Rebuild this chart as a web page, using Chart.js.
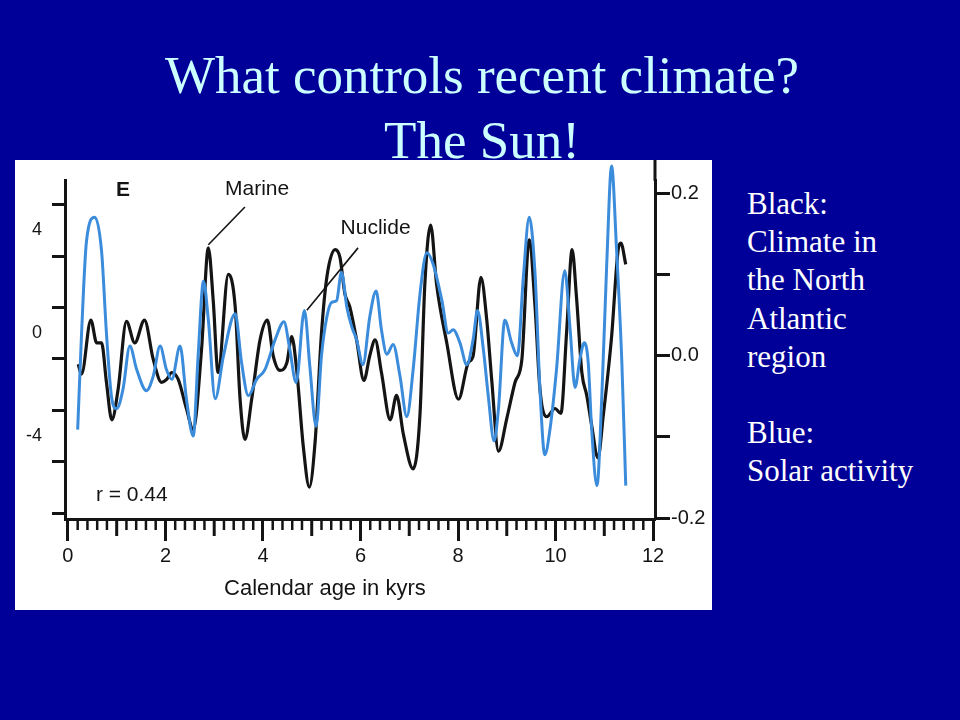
<!DOCTYPE html>
<html><head><meta charset="utf-8">
<script src="https://cdn.jsdelivr.net/npm/chart.js@4.4.0/dist/chart.umd.min.js"></script>
<style>
html,body{margin:0;padding:0;}
body{width:960px;height:720px;background:#000099;position:relative;overflow:hidden;font-family:"Liberation Serif","Times New Roman",serif;}
.t{position:absolute;left:0;width:964px;text-align:center;color:#ccffff;font-size:53px;line-height:53px;white-space:nowrap;}
#panel{position:absolute;left:15px;top:160px;width:697px;height:450px;background:#fff;}
#c{display:block;width:697px;height:450px;}
#side{position:absolute;left:747px;top:185px;color:#fff;font-size:31px;line-height:38.2px;white-space:nowrap;}
</style></head>
<body>
<div class="t" style="top:49px">What controls recent climate?</div>
<div class="t" style="top:114px">The Sun!</div>
<div id="panel"><canvas id="c" width="697" height="450"></canvas></div>
<div id="side">Black:<br>Climate in<br>the North<br>Atlantic<br>region<br><br>Blue:<br>Solar activity</div>
<script>
// Marine record (black, left axis)
const marineAge = [0.21,0.28,0.47,0.59,0.69,0.79,0.90,1.03,1.20,1.37,1.57,1.75,1.92,2.03,2.13,2.26,2.43,2.57,2.74,2.88,2.98,3.08,3.29,3.43,3.53,3.63,3.77,3.94,4.09,4.21,4.35,4.49,4.59,4.69,4.83,4.95,5.07,5.20,5.31,5.48,5.58,5.68,5.78,5.92,6.07,6.19,6.30,6.43,6.61,6.74,6.88,7.08,7.22,7.32,7.44,7.56,7.77,8.01,8.21,8.31,8.47,8.59,8.69,8.83,9.00,9.17,9.31,9.46,9.58,9.68,9.82,9.99,10.11,10.23,10.34,10.43,10.54,10.64,10.74,10.87,10.98,11.15,11.29,11.34,11.44];
const marineValue = [-1.21,-1.59,0.51,-0.38,-0.38,-1.91,-3.37,-2.17,0.46,-0.38,0.51,-1.02,-1.91,-1.79,-1.53,-1.79,-2.93,-3.75,-0.64,3.32,1.27,-1.53,2.29,1.03,-2.55,-4.13,-2.55,-0.26,0.51,-0.88,-1.45,-1.15,-0.13,-1.40,-4.46,-5.99,-4.21,0.00,2.18,3.25,2.94,1.53,1.03,-0.26,-1.84,-0.88,-0.26,-1.53,-3.37,-2.42,-3.94,-5.28,-3.17,1.91,4.21,1.91,-0.38,-2.57,-1.15,-0.88,2.17,0.51,-1.79,-4.59,-3.32,-1.91,-1.02,3.63,1.03,-2.17,-3.25,-2.93,-3.12,0.13,3.25,1.40,-1.53,-2.42,-3.57,-4.85,-3.19,-0.13,3.32,3.51,2.68];
// Nuclide record (blue, right axis)
const nuclideAge = [0.20,0.28,0.38,0.55,0.69,0.79,0.90,1.00,1.13,1.27,1.41,1.61,1.75,1.89,2.02,2.13,2.30,2.43,2.57,2.67,2.78,2.88,3.02,3.19,3.43,3.56,3.70,3.87,4.04,4.25,4.43,4.55,4.68,4.85,4.96,5.09,5.20,5.31,5.41,5.51,5.61,5.72,5.82,5.92,6.05,6.19,6.32,6.43,6.54,6.67,6.81,6.95,7.08,7.22,7.36,7.49,7.67,7.80,7.90,8.04,8.18,8.31,8.40,8.52,8.62,8.74,8.83,8.96,9.10,9.22,9.34,9.46,9.58,9.68,9.78,9.89,10.02,10.19,10.30,10.40,10.50,10.59,10.67,10.74,10.85,10.95,11.05,11.15,11.25,11.36,11.44];
const nuclideValue = [-0.091,0.028,0.141,0.171,0.129,0.028,-0.053,-0.065,-0.041,0.012,-0.017,-0.043,-0.025,0.012,-0.017,-0.029,0.012,-0.053,-0.099,0.000,0.092,0.044,-0.053,0.000,0.052,-0.008,-0.049,-0.029,-0.017,0.020,0.042,0.008,-0.033,0.056,-0.012,-0.087,0.000,0.048,0.066,0.068,0.103,0.060,0.036,0.020,-0.011,0.048,0.080,0.032,0.002,0.014,-0.025,-0.075,-0.017,0.076,0.127,0.113,0.068,0.028,0.032,0.016,-0.011,0.020,0.056,0.008,-0.049,-0.105,-0.065,0.044,0.016,0.000,0.097,0.171,0.101,-0.041,-0.122,-0.089,-0.017,0.105,0.032,-0.039,-0.004,0.016,-0.008,-0.089,-0.160,-0.049,0.113,0.234,0.133,-0.008,-0.160];

// Tick values
const xMajorTicks = [0,2,4,6,8,10,12];
const xMinorStep = 0.2;
const leftTickMarks = [-7,-5,-3,-1,1,3,5];
const leftTickLabels = [-4,0,4];
const rightTickMarks = [-0.2,-0.1,0,0.1,0.2];
const rightTickLabels = [-0.2,0,0.2];

const INK = '#141414';
const BLUE = '#3c8cdc';
const SANS = '"Liberation Sans", Arial, Helvetica, sans-serif';

const notes = [
  {text:'E', x:1.13, y:5.58, bold:true, size:21},
  {text:'Marine', x:3.88, y:5.62, size:21},
  {text:'Nuclide', x:6.31, y:4.08, size:21},
  {text:'r = 0.44', x:1.31, y:-6.31, size:21}
];
const leaders = [
  {x1:3.63, y1:4.91, x2:2.88, y2:3.44},
  {x1:5.95, y1:3.32, x2:4.90, y2:0.89}
];

const decor = {
  id:'decor',
  afterDraw(chart){
    const {ctx, chartArea:a, scales} = chart;
    const x = scales.x, yL = scales.yL;
    ctx.save();
    ctx.strokeStyle = INK; ctx.lineCap = 'butt';
    ctx.lineWidth = 3;
    ctx.beginPath(); ctx.moveTo(a.right, 0); ctx.lineTo(a.right, a.top); ctx.stroke();
    const n = Math.round(12 / xMinorStep);
    for (let k = 1; k < n; k++) {
      const v = k * xMinorStep;
      const isInt = Math.abs(v - Math.round(v)) < 1e-6;
      if (isInt && Math.round(v) % 2 === 0) continue;
      const len = isInt ? 17 : 11;
      const px = x.getPixelForValue(v);
      ctx.lineWidth = isInt ? 3 : 2.5;
      ctx.beginPath(); ctx.moveTo(px, a.bottom); ctx.lineTo(px, a.bottom + len); ctx.stroke();
    }
    ctx.lineWidth = 1.6;
    leaders.forEach(l => {
      ctx.beginPath();
      ctx.moveTo(x.getPixelForValue(l.x1), yL.getPixelForValue(l.y1));
      ctx.lineTo(x.getPixelForValue(l.x2), yL.getPixelForValue(l.y2));
      ctx.stroke();
    });
    ctx.fillStyle = INK; ctx.textAlign = 'center'; ctx.textBaseline = 'middle';
    notes.forEach(t => {
      ctx.font = (t.bold ? 'bold ' : '') + t.size + 'px ' + SANS;
      ctx.fillText(t.text, x.getPixelForValue(t.x), yL.getPixelForValue(t.y));
    });
    ctx.font = '22px ' + SANS;
    ctx.fillText('Calendar age in kyrs', x.getPixelForValue(5.27), a.bottom + 70);
    ctx.restore();
  }
};

new Chart(document.getElementById('c'), {
  type: 'line',
  data: {
    datasets: [
      {label:'Nuclide', data: nuclideAge.map((v,i)=>({x:v, y:nuclideValue[i]})), yAxisID:'yR',
       borderColor:BLUE, borderWidth:3, pointRadius:0, cubicInterpolationMode:'monotone', clip:false, fill:false},
      {label:'Marine', data: marineAge.map((v,i)=>({x:v, y:marineValue[i]})), yAxisID:'yL',
       borderColor:INK, borderWidth:3.2, pointRadius:0, cubicInterpolationMode:'monotone', fill:false}
    ]
  },
  options: {
    responsive:false, animation:false, devicePixelRatio:1,
    layout:{padding:{top:15, left:0, right:0, bottom:0}},
    plugins:{legend:{display:false}, tooltip:{enabled:false}, title:{display:false}},
    scales:{
      x:{type:'linear', position:'bottom', min:-0.06, max:12.04,
        afterBuildTicks: s => { s.ticks = xMajorTicks.map(v => ({value:v})); },
        afterFit: s => { s.height = 91; },
        grid:{drawOnChartArea:false, tickLength:22, tickWidth:3, tickColor:INK},
        border:{display:true, color:INK, width:3},
        ticks:{autoSkip:false, maxRotation:0, padding:3, color:INK, font:{family:SANS, size:20},
          callback: v => String(v)}
      },
      yL:{type:'linear', position:'left', min:-7.23, max:5.93,
        afterBuildTicks: s => { s.ticks = leftTickMarks.concat(leftTickLabels).sort((a,b)=>a-b).map(v => ({value:v})); },
        afterFit: s => { s.width = 50; },
        grid:{drawOnChartArea:false, tickLength:13, tickWidth:3,
          tickColor: c => leftTickMarks.includes(c.tick.value) ? INK : 'rgba(0,0,0,0)'},
        border:{display:true, color:INK, width:3},
        ticks:{autoSkip:false, padding:10, color:INK, font:{family:SANS, size:18},
          callback: v => leftTickLabels.includes(v) ? String(v) : ''}
      },
      yR:{type:'linear', position:'right', min:-0.2012, max:0.2158,
        afterBuildTicks: s => { s.ticks = rightTickMarks.map(v => ({value:v})); },
        afterFit: s => { s.width = 57; },
        grid:{drawOnChartArea:false, tickLength:15, tickWidth:3, tickColor:INK},
        border:{display:true, color:INK, width:3},
        ticks:{autoSkip:false, padding:1, color:INK, font:{family:SANS, size:20},
          callback: v => rightTickLabels.includes(v) ? v.toFixed(1) : ''}
      }
    }
  },
  plugins:[decor]
});
</script>
</body></html>
